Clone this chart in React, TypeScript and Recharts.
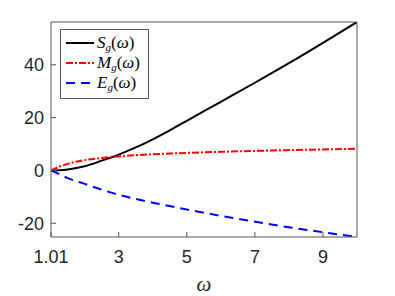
import { Legend, Line, LineChart, XAxis, YAxis } from "recharts";

const omega = [1.01, 1.25, 1.5, 2, 2.5, 3, 3.5, 4, 4.5, 5, 6, 7, 8, 9, 10];
const sValues = [0, 0.1, 0.4, 1.6, 3.7, 6.0, 8.7, 11.8, 15.2, 18.8, 26.0, 33.2, 40.6, 48.3, 56.2];
const mValues = [0, 1.4, 2.5, 3.9, 4.7, 5.3, 5.75, 6.1, 6.4, 6.65, 7.05, 7.4, 7.7, 7.95, 8.2];
const eValues = [0, -1.4, -2.9, -5.1, -7.3, -9.2, -10.8, -12.2, -13.5, -14.8, -17.2, -19.4, -21.5, -23.4, -25.2];

const xTicks = [1.01, 3, 5, 7, 9];
const yTicks = [-20, 0, 20, 40];
const xDomain = [1.01, 10];
const yDomain = [-25.2, 56.2];

const series = [
  { key: "S", name: "S", color: "#000000", dash: undefined },
  { key: "M", name: "M", color: "#ff0000", dash: "7 2 2 2" },
  { key: "E", name: "E", color: "#0000ff", dash: "9 6" },
];

const data = omega.map((w, i) => ({ w, S: sValues[i], M: mValues[i], E: eValues[i] }));

const axisColor = "#555555";
const textColor = "#262626";
const tickFont = { fontSize: 18, fill: textColor, fontFamily: "Liberation Sans, Arial, sans-serif" };
const axisStroke = { stroke: axisColor, strokeWidth: 1 };

function MatlabLegend() {
  return (
    <div
      style={{
        width: 87,
        height: 65,
        background: "#fff",
        border: `1px solid ${axisColor}`,
        paddingTop: 3,
        boxSizing: "content-box",
        fontFamily: "Liberation Serif, serif",
        fontSize: 17,
        lineHeight: "17px",
        color: "#000",
      }}
    >
      {series.map((s) => (
        <div key={s.key} style={{ display: "flex", alignItems: "center", height: 20 }}>
          <svg width={36} height={20} style={{ flex: "none" }}>
            <line x1={5} x2={33} y1={10} y2={10} stroke={s.color} strokeWidth={2} strokeDasharray={s.dash} />
          </svg>
          <span style={{ whiteSpace: "nowrap" }}>
            <i>{s.name}</i>
            <i style={{ fontSize: 11, position: "relative", top: 3 }}>g</i>(<i>ω</i>)
          </span>
        </div>
      ))}
    </div>
  );
}

export default function App() {
  return (
    <div style={{ position: "absolute", left: 0, top: 0 }}>
      <LineChart width={395} height={296} data={data} margin={{ top: 21, right: 37, bottom: 19, left: 0 }}>
        <XAxis
          dataKey="w"
          type="number"
          domain={xDomain}
          ticks={xTicks}
          allowDataOverflow
          height={40}
          tickSize={-5}
          tickMargin={18}
          tick={tickFont}
          axisLine={axisStroke}
          tickLine={axisStroke}
          label={{ value: "ω", position: "bottom", offset: -1, fontSize: 21, fontStyle: "italic", fill: textColor, fontFamily: "Liberation Serif, serif" }}
        />
        {/* top and right axes only draw the box and inner ticks, like MATLAB's "box on" */}
        <XAxis
          xAxisId="top"
          orientation="top"
          type="number"
          domain={xDomain}
          ticks={xTicks}
          allowDataOverflow
          height={1}
          tickSize={-5}
          tick={false}
          axisLine={axisStroke}
          tickLine={axisStroke}
        />
        <YAxis
          type="number"
          domain={yDomain}
          ticks={yTicks}
          allowDataOverflow
          width={51}
          tickSize={-5}
          tickMargin={12}
          tick={tickFont}
          axisLine={axisStroke}
          tickLine={axisStroke}
        />
        <YAxis
          yAxisId="right"
          orientation="right"
          type="number"
          domain={yDomain}
          ticks={yTicks}
          allowDataOverflow
          width={1}
          tickSize={-5}
          tick={false}
          axisLine={axisStroke}
          tickLine={axisStroke}
        />
        <Legend
          layout="vertical"
          align="center"
          verticalAlign="middle"
          wrapperStyle={{ left: 60, top: 29, width: 89, height: 67 }}
          content={() => <MatlabLegend />}
        />
        {series.map((s) => (
          <Line
            key={s.key}
            dataKey={s.key}
            type="monotone"
            stroke={s.color}
            strokeWidth={2}
            strokeDasharray={s.dash}
            dot={false}
            isAnimationActive={false}
          />
        ))}
      </LineChart>
    </div>
  );
}
